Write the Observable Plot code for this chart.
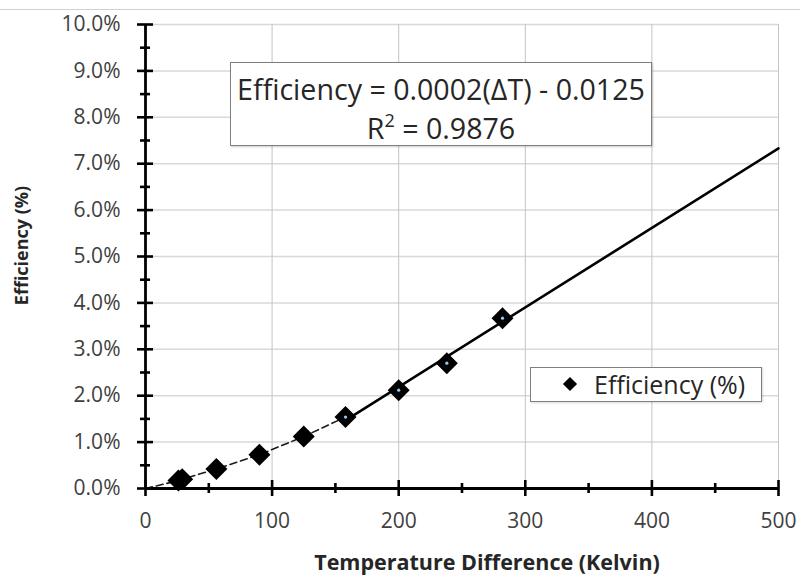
<!DOCTYPE html>
<html>
<head>
<meta charset="utf-8">
<script src="https://cdn.jsdelivr.net/npm/d3@7"></script>
<script src="https://cdn.jsdelivr.net/npm/@observablehq/plot@0.6"></script>
<style>
  body { margin: 0; background: #fff; font-family: "Open Sans", sans-serif; }
  #wrap { position: relative; width: 800px; height: 581px; overflow: hidden; background: #fff; }
  #wrap svg { position: absolute; left: 0; top: 0; }
  #topline { position: absolute; left: 0; top: 9px; width: 800px; height: 1px; background: #d0d0d0; }
  #eq { position: absolute; left: 230px; top: 62px; width: 422px; height: 84px; box-sizing: border-box;
        border: 1px solid #7f7f7f; background: #fff; box-shadow: 1px 1px 2px rgba(0,0,0,0.2);
        text-align: center; color: #262626; font-size: 28.6px; line-height: 39px; padding-top: 6px; white-space: nowrap; }
  #eq sup { font-size: 18px; line-height: 0; vertical-align: 12px; }
  #legend { position: absolute; left: 530px; top: 367px; width: 232px; height: 35px; box-sizing: border-box;
            border: 1px solid #7f7f7f; background: #fff; box-shadow: 1px 1px 2px rgba(0,0,0,0.15);
            color: #262626; font-size: 25px; }
  #legend .sym { position: absolute; left: 34px; top: 11px; width: 10px; height: 10px; background: #000; transform: rotate(45deg); }
  #legend .lab { position: absolute; left: 63px; top: 0px; line-height: 33px; white-space: nowrap; }
</style>
</head>
<body>
<div id="wrap">
  <div id="topline"></div>
</div>
<script>
// ---- data ----
const seriesName = "Efficiency (%)";
const deltaT = [26, 29, 56, 90, 125, 158, 200, 238, 282];
const efficiency = [0.0017, 0.0020, 0.0042, 0.0073, 0.0112, 0.0154, 0.0212, 0.0270, 0.0367];
const originDeltaT = [0];
const originEfficiency = [0];
const dashedCount = 6; // dashed connector is visible up to the start of the fitted range
const fitDeltaT = [158, 200, 238, 282];
const fitEfficiency = [0.0154, 0.0212, 0.0270, 0.0367];
const trendDeltaT = [158, 500];
const trendEfficiency = [0.0147, 0.0733];
const xTicks = [0, 100, 200, 300, 400, 500];
const xMinorTicks = [50, 150, 250, 350, 450];
const yTicks = [0, 0.01, 0.02, 0.03, 0.04, 0.05, 0.06, 0.07, 0.08, 0.09, 0.10];
const yMinorTicks = [0.005, 0.015, 0.025, 0.035, 0.045, 0.055, 0.065, 0.075, 0.085, 0.095];
const xTitle = "Temperature Difference (Kelvin)";
const yTitle = "Efficiency (%)";
const equationText = "Efficiency = 0.0002(ΔT) - 0.0125";
const r2Value = "0.9876";

const points = deltaT.map((x, i) => ({x, y: efficiency[i]}));
const linePts = originDeltaT.map((x, i) => ({x, y: originEfficiency[i]})).concat(points.slice(0, dashedCount));
const fitPts = fitDeltaT.map((x, i) => ({x, y: fitEfficiency[i]}));
const trendPts = trendDeltaT.map((x, i) => ({x, y: trendEfficiency[i]}));

const squareDiamond = {
  draw(context, size) {
    const h = Math.sqrt(size / Math.PI);
    context.moveTo(0, -h);
    context.lineTo(h, 0);
    context.lineTo(0, h);
    context.lineTo(-h, 0);
    context.closePath();
  }
};

const axisColor = "#000";
const chart = Plot.plot({
  width: 800,
  height: 581,
  marginLeft: 145,
  marginRight: 22,
  marginTop: 24,
  marginBottom: 93,
  x: {domain: [0, 500]},
  y: {domain: [0, 0.1]},
  style: {fontFamily: "'Open Sans', sans-serif", fontSize: "21px", background: "transparent", overflow: "visible"},
  marks: [
    Plot.gridY({ticks: yTicks, stroke: "#d9d9d9", strokeOpacity: 1, strokeWidth: 1.5}),
    Plot.gridX({ticks: xTicks.slice(1), stroke: "#c4c4c4", strokeOpacity: 1, strokeWidth: 1}),
    Plot.line(linePts, {x: "x", y: "y", stroke: "#1a1a1a", strokeWidth: 1.6, strokeDasharray: "7,4"}),
    Plot.line(trendPts, {x: "x", y: "y", stroke: "#000", strokeWidth: 2.6}),
    Plot.dot(points, {x: "x", y: "y", symbol: squareDiamond, r: 11, fill: "#000"}),
    Plot.dot(fitPts, {x: "x", y: "y", r: 1.6, fill: "#8fd0f2"}),
    Plot.ruleX([0], {stroke: axisColor, strokeWidth: 2.8}),
    Plot.ruleY([0], {stroke: axisColor, strokeWidth: 2.8}),
    // crossing major / minor tick marks
    Plot.axisY({ticks: yTicks, tickSize: 16, dx: 8, fill: "none", stroke: axisColor, strokeWidth: 2.6, label: null}),
    Plot.axisY({ticks: yMinorTicks, tickSize: 10, dx: 5, fill: "none", stroke: axisColor, strokeWidth: 2.6, label: null}),
    Plot.axisX({ticks: xTicks, tickSize: 16, dy: -8, fill: "none", stroke: axisColor, strokeWidth: 2.6, label: null}),
    Plot.axisX({ticks: xMinorTicks, tickSize: 10, dy: -5, fill: "none", stroke: axisColor, strokeWidth: 2.6, label: null}),
    // tick labels
    Plot.axisY({ticks: yTicks, tickSize: 0, tickPadding: 25, tickFormat: d3.format(".1%"), fill: "#404040", fontSize: 21, label: null}),
    Plot.axisX({ticks: xTicks, tickSize: 0, tickPadding: 25, tickFormat: d3.format("d"), fill: "#404040", fontSize: 21, label: null}),
    // axis titles
    Plot.text([xTitle], {frameAnchor: "bottom", textAnchor: "middle", lineAnchor: "middle", dx: 25, dy: 75,
      fontWeight: "bold", fontSize: 21.5, fill: "#262626"}),
    Plot.text([yTitle], {frameAnchor: "left", textAnchor: "middle", lineAnchor: "middle", rotate: -90, dx: -123, dy: -11,
      fontWeight: "bold", fontSize: 18, fill: "#262626"})
  ]
});

const wrap = document.getElementById("wrap");
wrap.appendChild(chart);

const eq = document.createElement("div");
eq.id = "eq";
eq.innerHTML = `<div>${equationText}</div><div>R<sup>2</sup> = ${r2Value}</div>`;
wrap.appendChild(eq);

const legend = document.createElement("div");
legend.id = "legend";
legend.innerHTML = `<span class="sym"></span><span class="lab">${seriesName}</span>`;
wrap.appendChild(legend);
</script>
</body>
</html>
